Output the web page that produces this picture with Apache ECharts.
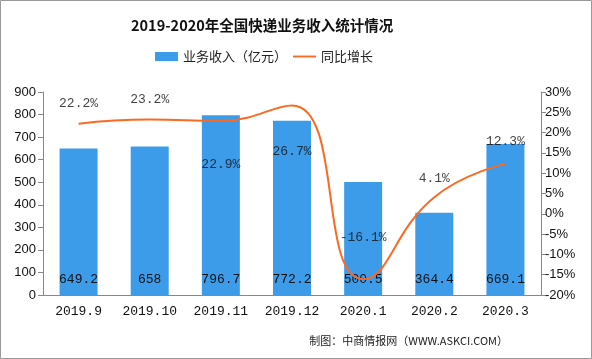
<!DOCTYPE html>
<html><head><meta charset="utf-8">
<script src="https://cdn.jsdelivr.net/npm/echarts@6/dist/echarts.min.js"></script>
<style>html,body{margin:0;padding:0;background:#fff}#c{width:592px;height:359px}</style>
</head><body><div id="c"></div>
<script>
const categories = ['2019.9','2019.10','2019.11','2019.12','2020.1','2020.2','2020.3'];
const revenue = [649.2, 658, 796.7, 772.2, 500.5, 364.4, 669.1];
const growth = [22.2, 23.2, 22.9, 26.7, -16.1, 4.1, 12.3];
const leftTicks = {min: 0, max: 900, interval: 100};
const rightTicks = {min: -20, max: 30, interval: 5};
const growthLabelOffsets = [-20, -20, 44, 46, -42, -19, -22];

const chart = echarts.init(document.getElementById('c'));
const numFont = 'Liberation Mono, DejaVu Sans Mono, monospace';
const cjk = '"Noto Sans CJK SC", sans-serif';
chart.setOption({
  animation: false,
  title: {text: '2019-2020年全国快递业务收入统计情况', left: 126, top: 13,
    textStyle: {fontSize: 14.5, fontWeight: 'bold', color: '#111', fontFamily: cjk}},
  legend: {top: 45, left: 150, itemWidth: 23, itemHeight: 9, itemGap: 6,
    textStyle: {fontSize: 13, color: '#222', fontFamily: cjk},
    data: [{name: '业务收入（亿元）', icon: 'rect'},
           {name: '同比增长', icon: 'path://M0,0h24v2h-24z'}]},
  grid: {left: 43, right: 51, top: 92, bottom: 64},
  xAxis: {type: 'category', data: categories,
    axisLine: {lineStyle: {color: '#888'}},
    axisTick: {length: 5, lineStyle: {color: '#888'}},
    axisLabel: {fontSize: 13, color: '#111', fontFamily: numFont, margin: 10}},
  yAxis: [
    {type: 'value', min: leftTicks.min, max: leftTicks.max, interval: leftTicks.interval,
      axisLine: {show: true, lineStyle: {color: '#888'}},
      axisTick: {show: true, length: 5, lineStyle: {color: '#888'}},
      splitLine: {show: false},
      axisLabel: {fontSize: 13, color: '#111', margin: 7}},
    {type: 'value', min: rightTicks.min, max: rightTicks.max, interval: rightTicks.interval,
      position: 'right',
      axisLine: {show: true, lineStyle: {color: '#888'}},
      axisTick: {show: true, length: 5, lineStyle: {color: '#888'}},
      splitLine: {show: false},
      axisLabel: {fontSize: 13, color: '#111', margin: 4, formatter: '{value}%'}}
  ],
  series: [
    {name: '业务收入（亿元）', type: 'bar', data: revenue, barWidth: 38,
      itemStyle: {color: '#3d9cea'},
      label: {show: true, position: 'insideBottom', distance: 9, fontSize: 13,
        color: '#111', fontFamily: numFont}},
    {name: '同比增长', type: 'line', yAxisIndex: 1, smooth: 0.5, symbol: 'none',
      lineStyle: {color: '#fa6a22', width: 2}, itemStyle: {color: '#fa6a22'},
      data: growth},
    {name: 'growthLabels', type: 'scatter', yAxisIndex: 1, symbolSize: 0.01,
      itemStyle: {color: 'rgba(0,0,0,0)'}, silent: true, z: 5,
      data: growth.map((v, i) => ({value: v, label: {show: true, position: 'inside',
        offset: [0, growthLabelOffsets[i]], formatter: v + '%', fontSize: 13,
        color: '#111', fontFamily: numFont}}))}
  ],
  graphic: [
    {type: 'rect', shape: {x: 0.5, y: 0.5, width: 591, height: 358},
      style: {fill: 'none', stroke: '#999', lineWidth: 1}, silent: true},
    {type: 'text', right: 84, top: 335,
      style: {text: '制图：中商情报网（WWW.ASKCI.COM）', fontSize: 11, fill: '#222',
        fontFamily: cjk}}
  ]
});
</script></body></html>
